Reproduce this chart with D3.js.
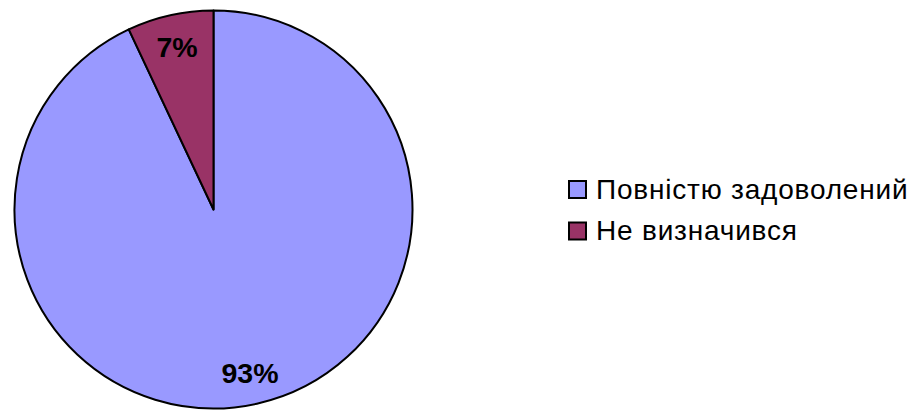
<!DOCTYPE html>
<html>
<head>
<meta charset="utf-8">
<script src="https://cdn.jsdelivr.net/npm/d3@7"></script>
<style>
  body { margin: 0; background: #fff; }
  svg { display: block; font-family: "Liberation Sans", Arial, sans-serif; }
</style>
</head>
<body>
<div id="chart"></div>
<script>
// data
var categories = ["Повністю задоволений", "Не визначився"]
var values = [93, 7]
var colors = ["#9999FF", "#993366"]

var width = 916
var height = 410
var cx = 213.5, cy = 209.5, radius = 199

var svg = d3.select("div#chart")
  .append("svg")
  .attr("width", width)
  .attr("height", height)

var data = categories.map(function (c, i) {
  return { name: c, value: values[i], color: colors[i] }
})

// first slice starts at 12 o'clock going clockwise, small slice ends at the top
var pie = d3.pie()
  .sort(null)
  .value(function (d) { return d.value })

var arc = d3.arc().innerRadius(0).outerRadius(radius)

var g = svg.append("g")
  .attr("transform", "translate(" + cx + "," + cy + ")")

var arcs = pie(data)

g.selectAll(".slice")
  .data(arcs)
  .enter()
  .append("path")
  .attr("class", "slice")
  .attr("d", arc)
  .style("fill", function (d) { return d.data.color })
  .style("stroke", "#000")
  .style("stroke-width", "2px")
  .style("stroke-linejoin", "round")

// labels
var labelArc = d3.arc().innerRadius(radius * 0.84).outerRadius(radius * 0.84)
g.selectAll(".label")
  .data(arcs)
  .enter()
  .append("text")
  .attr("class", "label")
  .attr("transform", function (d) {
    var c = labelArc.centroid(d)
    return "translate(" + c[0] + "," + c[1] + ")"
  })
  .attr("text-anchor", "middle")
  .attr("dy", "0.36em")
  .style("font-size", "28.5px")
  .style("font-weight", "bold")
  .text(function (d) { return d.data.value + "%" })

// legend
var legend = svg.append("g")
  .attr("transform", "translate(569,181)")

var item = legend.selectAll(".item")
  .data(data)
  .enter()
  .append("g")
  .attr("class", "item")
  .attr("transform", function (d, i) { return "translate(0," + (i * 41.5) + ")" })

item.append("rect")
  .attr("width", 17)
  .attr("height", 17)
  .style("fill", function (d) { return d.color })
  .style("stroke", "#000")
  .style("stroke-width", "2px")

item.append("text")
  .attr("x", 27)
  .attr("y", 17.5)
  .style("font-size", "28px")
  .style("letter-spacing", "0.8px")
  .text(function (d) { return d.name })
</script>
</body>
</html>
